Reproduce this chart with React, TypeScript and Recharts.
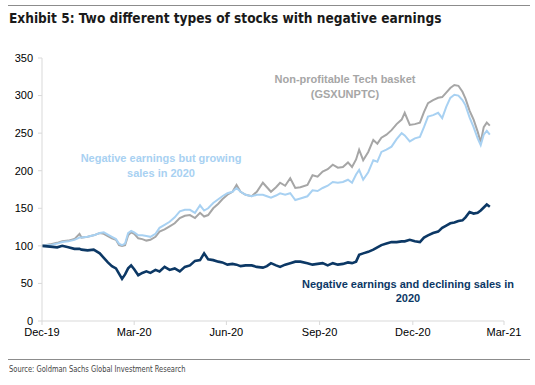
import React from "react";
import { LineChart, Line, XAxis, YAxis } from "recharts";

// Days since Dec-19 (31 Dec 2019)
const days = [0, 8, 15, 20, 26, 32, 37, 39, 45, 51, 57, 61, 65, 69, 73, 76, 79, 82, 85, 88, 91, 95, 99, 103, 107, 112, 116, 121, 126, 131, 136, 141, 146, 151, 156, 160, 164, 169, 174, 178, 183, 188, 192, 196, 201, 207, 212, 218, 222, 226, 231, 235, 240, 245, 250, 255, 262, 267, 272, 277, 282, 287, 292, 297, 302, 306, 310, 313, 317, 322, 327, 331, 335, 340, 345, 350, 355, 358, 363, 368, 373, 377, 381, 386, 391, 395, 399, 403, 407, 411, 415, 418, 422, 426, 430, 433, 436, 439, 442];

// Non-profitable Tech basket (GSXUNPTC)
const techBasket = [100, 102, 104, 106, 107, 109, 116, 111, 112, 114, 117, 116, 113, 110, 108, 101, 100, 101, 114, 118, 116, 110, 109, 107, 108, 112, 119, 122, 126, 130, 137, 140, 141, 137, 144, 139, 141, 150, 156, 162, 168, 172, 181, 172, 168, 166, 172, 184, 178, 172, 178, 184, 180, 190, 177, 178, 181, 194, 192, 199, 202, 208, 204, 205, 211, 205, 215, 228, 214, 225, 241, 236, 244, 248, 254, 262, 268, 277, 261, 262, 264, 278, 290, 294, 297, 298, 304, 310, 314, 313, 305, 296, 280, 268, 252, 238, 258, 264, 260];

// Negative earnings but growing sales in 2020
const growingSales = [100, 101, 103, 105, 106, 108, 111, 111, 112, 114, 117, 118, 115, 112, 109, 103, 101, 103, 117, 120, 118, 114, 114, 113, 112, 116, 124, 128, 132, 138, 146, 148, 148, 144, 154, 147, 150, 157, 162, 166, 170, 172, 177, 172, 168, 166, 168, 168, 166, 164, 167, 170, 168, 170, 161, 163, 166, 174, 173, 177, 180, 185, 184, 185, 188, 184, 195, 201, 188, 198, 214, 212, 225, 228, 232, 242, 250, 247, 239, 243, 245, 258, 272, 274, 277, 270, 285, 297, 301, 300, 294, 287, 271, 258, 243, 234, 248, 253, 248];

// Negative earnings and declining sales in 2020
const decliningSales = [100, 99, 98, 100, 98, 96, 96, 95, 94, 95, 90, 84, 78, 73, 70, 63, 56, 62, 70, 74, 69, 61, 64, 66, 64, 68, 66, 72, 68, 70, 66, 72, 74, 80, 81, 90, 82, 81, 79, 78, 75, 76, 75, 73, 74, 74, 72, 71, 73, 77, 74, 72, 75, 77, 79, 79, 77, 75, 76, 77, 74, 77, 75, 76, 78, 77, 79, 88, 90, 92, 95, 98, 101, 103, 105, 105, 106, 106, 108, 106, 105, 111, 114, 117, 119, 124, 127, 130, 131, 133, 134, 138, 145, 143, 144, 147, 151, 155, 152];

const xTicks = [0, 91, 182, 274, 366, 456];
const xTickLabels = ["Dec-19", "Mar-20", "Jun-20", "Sep-20", "Dec-20", "Mar-21"];
const yTicks = [0, 50, 100, 150, 200, 250, 300, 350];

const data = days.map((d, i) => ({
  day: d,
  tech: techBasket[i],
  growing: growingSales[i],
  declining: decliningSales[i],
}));

const NAVY = "#0c3865";
const GRAY = "#a6a6a6";
const LIGHT = "#a8d1f2";
const narrow = "'Liberation Sans Narrow', 'DejaVu Sans Condensed', 'Arial Narrow', sans-serif";
const sans = "'Liberation Sans', Arial, sans-serif";

const abs = (style: React.CSSProperties): React.CSSProperties => ({ position: "absolute", ...style });

export default function App() {
  return (
    <div style={{ position: "absolute", left: 0, top: 0, width: 535, height: 385, background: "#fff", fontFamily: sans }}>
      <div style={abs({ left: 8, top: 5, width: 522, height: 1, background: "#8c8c8c" })} />
      <div style={abs({ left: 9, top: 10, fontFamily: narrow, fontWeight: 700, fontSize: 14, color: "#1a1a1a", whiteSpace: "nowrap", transform: "scaleX(0.97)", transformOrigin: "left center" })}>
        Exhibit 5: Two different types of stocks with negative earnings
      </div>
      <div style={abs({ left: 0, top: 0 })}>
        <LineChart width={535} height={385} data={data} margin={{ top: 58, right: 31, bottom: 34, left: 0 }}>
          <XAxis
            dataKey="day"
            type="number"
            domain={[0, 456]}
            ticks={xTicks}
            tickFormatter={(v: number) => xTickLabels[xTicks.indexOf(v)]}
            height={30}
            stroke="#d9d9d9"
            tickSize={4}
            tickMargin={3}
            tick={{ fill: "#000", fontSize: 11, fontFamily: sans }}
            interval={0}
          />
          <YAxis
            type="number"
            domain={[0, 350]}
            ticks={yTicks}
            width={42}
            stroke="#d9d9d9"
            tickSize={4}
            tickMargin={5}
            tick={{ fill: "#000", fontSize: 11, fontFamily: sans }}
            interval={0}
          />
          <Line dataKey="tech" stroke={GRAY} strokeWidth={2} dot={false} isAnimationActive={false} />
          <Line dataKey="growing" stroke={LIGHT} strokeWidth={2} dot={false} isAnimationActive={false} />
          <Line dataKey="declining" stroke={NAVY} strokeWidth={2.6} dot={false} isAnimationActive={false} />
        </LineChart>
      </div>
      <div style={abs({ left: 245, top: 72, width: 200, textAlign: "center", color: GRAY, fontWeight: 700, fontSize: 11, lineHeight: "15px" })}>
        Non-profitable Tech basket<br />(GSXUNPTC)
      </div>
      <div style={abs({ left: 61, top: 151, width: 200, textAlign: "center", color: LIGHT, fontWeight: 700, fontSize: 11, lineHeight: "15px" })}>
        Negative earnings but growing<br />sales in 2020
      </div>
      <div style={abs({ left: 288, top: 277, width: 240, textAlign: "center", color: NAVY, fontWeight: 700, fontSize: 11, lineHeight: "14px" })}>
        Negative earnings and declining sales in<br />2020
      </div>
      <div style={abs({ left: 8, top: 359, width: 522, height: 1, background: "#8c8c8c" })} />
      <div style={abs({ left: 9, top: 364, fontFamily: narrow, fontSize: 9, color: "#444", whiteSpace: "nowrap", transform: "scaleX(0.83)", transformOrigin: "left center" })}>
        Source: Goldman Sachs Global Investment Research
      </div>
    </div>
  );
}
